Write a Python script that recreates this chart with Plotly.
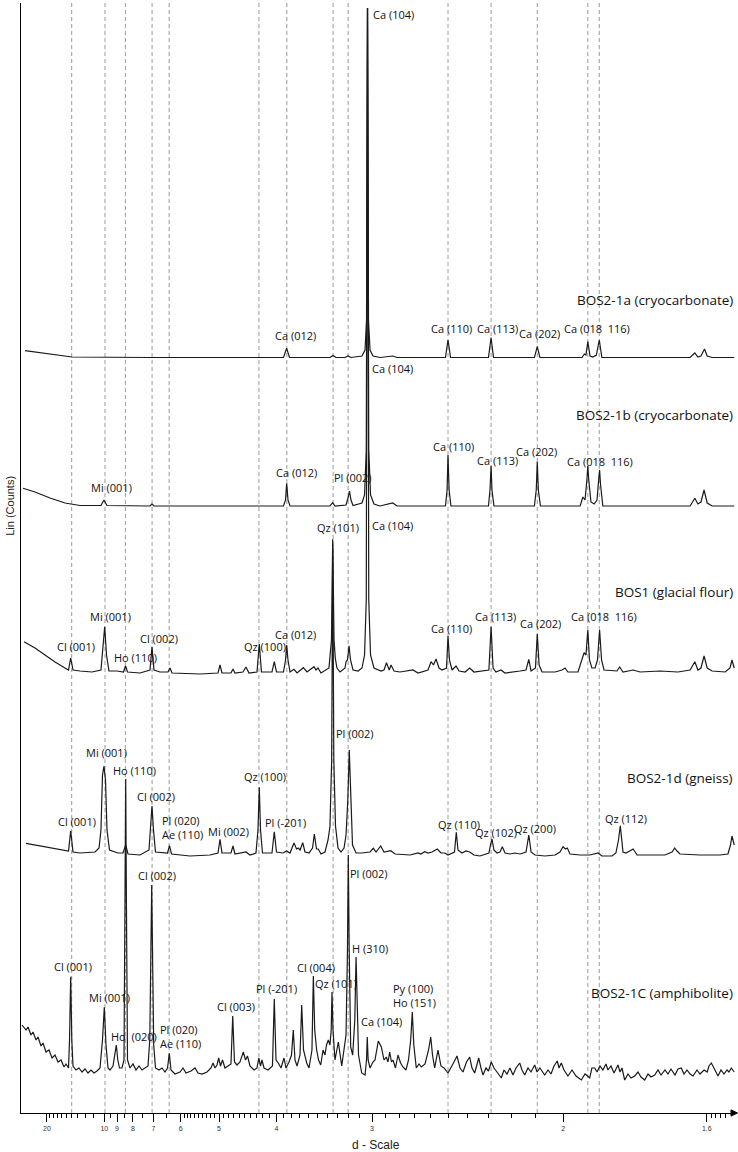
import plotly.graph_objects as go

# XRD patterns: (d-spacing in Å, counts above the pattern's own baseline)
bos2_1a = [
    (32.37, 6.8), (22.75, 5), (17.53, 2.5), (13.92, 0.5), (7.152, 0), (3.904, 0), (3.862, 9.2), (3.826, 0),
    (3.371, 0), (3.341, 2), (3.312, 0), (3.228, 0), (3.201, 1.5), (3.175, 0), (3.081, 1.5), (3.056, 7.5),
    (3.044, 37.5), (3.036, 349.5), (3.028, 37.5), (3.016, 7.5), (2.993, 1.5), (2.939, 0), (2.846, 1.5),
    (2.816, 0), (2.517, 0), (2.503, 17.5), (2.489, 0), (2.300, 0), (2.288, 19.8), (2.277, 0), (2.106, 0),
    (2.095, 10.8), (2.085, 0), (1.937, 0), (1.929, 3.5), (1.924, 2.5), (1.918, 15.8), (1.911, 1.5),
    (1.902, 0.5), (1.891, 2.5), (1.882, 17.5), (1.874, 0), (1.638, 0), (1.627, 4.5), (1.620, 0.5),
    (1.613, 1.5), (1.605, 8.5), (1.599, 1.5), (1.588, 0), (1.541, 0),
]

bos2_1b = [
    (34.30, 17.7), (25.25, 14), (18.98, 8), (15.21, 3), (12.69, 0.5), (10.30, 0.5), (10.03, 6), (9.77, 0.5),
    (7.152, 0), (7.064, 2), (6.978, 0), (3.904, 0), (3.877, 6), (3.862, 22.7), (3.845, 6), (3.819, 0),
    (3.371, 0), (3.344, 3.3), (3.322, 0), (3.219, 1), (3.201, 8), (3.188, 15), (3.175, 6), (3.157, 0.5),
    (3.081, 3), (3.060, 11), (3.046, 56), (3.036, 498), (3.026, 56), (3.012, 11), (2.985, 2), (2.939, 0),
    (2.846, 3), (2.816, 0), (2.517, 0), (2.508, 16), (2.503, 51), (2.497, 16), (2.487, 0), (2.300, 0),
    (2.293, 16), (2.288, 40), (2.284, 16), (2.275, 0), (2.106, 0), (2.099, 16), (2.095, 44.3), (2.091, 16),
    (2.083, 0), (1.943, 0), (1.934, 9), (1.927, 6), (1.921, 26), (1.918, 40), (1.915, 26), (1.908, 4),
    (1.898, 2), (1.889, 6), (1.884, 26), (1.881, 36), (1.878, 21), (1.871, 0), (1.638, 0), (1.627, 7.7),
    (1.620, 2), (1.613, 4), (1.606, 16), (1.599, 3), (1.588, 0), (1.541, 0),
]

bos1 = [
    (33.31, 31.3), (25.25, 25), (20.69, 18), (17.53, 11), (15.21, 5), (14.53, 3), (14.14, 15), (13.75, 3),
    (12.69, 2), (11.20, 1), (10.30, 3), (10.115, 23), (9.965, 46.3), (9.812, 18), (9.607, 2), (9.004, 2),
    (8.567, 1), (8.441, 7.3), (8.318, 1), (7.627, 0), (7.152, 3), (7.064, 26.3), (6.978, 3), (6.732, 1),
    (6.430, 1), (6.359, 5), (6.289, 0), (5.453, -1), (5.023, 0), (4.979, 8), (4.937, 0), (4.753, 0),
    (4.714, 4), (4.675, 0), (4.528, 1), (4.475, 6), (4.423, 0), (4.291, 1), (4.254, 29), (4.220, 1),
    (4.063, 1), (4.030, 11.3), (3.999, 1), (3.904, 1), (3.877, 13), (3.862, 28), (3.845, 13), (3.819, 1),
    (3.769, 3.7), (3.732, 0), (3.657, 5.3), (3.615, 1), (3.537, 6.3), (3.515, 3), (3.494, 5), (3.462, 0),
    (3.381, 5), (3.356, 33), (3.344, 133.7), (3.331, 33), (3.319, 14.7), (3.303, 5), (3.274, 1), (3.228, 5),
    (3.219, 11.3), (3.206, 13), (3.192, 27.3), (3.179, 13), (3.157, 3), (3.114, 2), (3.081, 5), (3.060, 18),
    (3.046, 73), (3.036, 665), (3.026, 73), (3.012, 18), (2.985, 5), (2.931, 2), (2.909, 3), (2.891, 10.3),
    (2.871, 3), (2.858, 8), (2.837, 2), (2.796, 1), (2.710, 3), (2.678, 0), (2.617, 3), (2.599, 11.3),
    (2.585, 8), (2.570, 14), (2.553, 5), (2.536, 3), (2.511, 5), (2.503, 37), (2.495, 13), (2.481, 3),
    (2.460, 7), (2.444, 2), (2.413, 1), (2.390, 5), (2.369, 1), (2.298, 3), (2.288, 46.3), (2.279, 5),
    (2.266, 1), (2.244, 3), (2.226, 0), (2.163, 2), (2.139, 3), (2.128, 13.7), (2.119, 2), (2.102, 5),
    (2.095, 39), (2.088, 8), (2.077, 1), (2.029, 1), (2.0045, 3), (1.994, 5), (1.984, 1), (1.950, 1),
    (1.937, 13), (1.930, 20.3), (1.924, 18), (1.918, 43), (1.9127, 13), (1.905, 5), (1.895, 5), (1.8875, 13),
    (1.881, 43), (1.875, 13), (1.8675, 3), (1.8435, 2), (1.829, 2), (1.821, 6), (1.8115, 1), (1.783, 3),
    (1.764, 1), (1.7115, 2), (1.667, 1), (1.638, 3), (1.627, 11.3), (1.620, 3), (1.613, 5), (1.606, 17),
    (1.599, 5), (1.588, 2), (1.560, 1), (1.5497, 5), (1.5456, 13), (1.541, 5),
]

bos2_1d = [
    (31.48, 11.7), (22.75, 9), (17.53, 6), (15.21, 4), (14.53, 4), (14.14, 24.3), (13.75, 3), (12.69, 2),
    (10.88, 3), (10.48, 7), (10.30, 25), (10.16, 80), (10.03, 89), (9.897, 75), (9.770, 25), (9.566, 5),
    (8.934, 2), (8.599, 2), (8.428, 10), (8.288, 1), (7.627, 0), (7.197, 5), (7.130, 25), (7.064, 49),
    (6.999, 25), (6.915, 3), (6.448, 2), (6.377, 9.3), (6.307, 1), (5.725, -1), (5.205, 0), (5.023, 2),
    (4.979, 15.7), (4.937, 2), (4.753, 2), (4.714, 9), (4.675, 1), (4.528, 2), (4.475, 3), (4.406, 0),
    (4.307, 2), (4.275, 25), (4.254, 67.7), (4.235, 25), (4.204, 2), (4.063, 2), (4.030, 23.3), (3.999, 3),
    (3.910, 2), (3.862, 4), (3.819, 2), (3.769, 12), (3.738, 6), (3.717, 7), (3.696, 5), (3.664, 12.3),
    (3.638, 3), (3.592, 2), (3.553, 7), (3.533, 21), (3.510, 6), (3.491, 6), (3.462, 1), (3.421, 3),
    (3.390, 15), (3.371, 28.3), (3.354, 95), (3.344, 310), (3.333, 95), (3.317, 29), (3.293, 7), (3.265, 3),
    (3.237, 7), (3.219, 20), (3.203, 55), (3.190, 105), (3.1765, 55), (3.1616, 10), (3.131, 2), (3.081, 2),
    (3.016, 3), (2.990, 6.7), (2.969, 3), (2.9337, 9), (2.909, 3), (2.8605, 4.3), (2.830, 1), (2.729, 0),
    (2.678, 2), (2.660, 1), (2.637, 3.3), (2.617, 2), (2.5935, 3), (2.563, 6), (2.542, 2), (2.521, 2),
    (2.503, 0), (2.468, 3), (2.4585, 22.7), (2.4496, 5), (2.429, 2), (2.4084, 4), (2.390, 3), (2.369, 0),
    (2.340, -1), (2.298, 2), (2.2907, 10), (2.2838, 16), (2.275, 5), (2.2613, 2), (2.248, 3), (2.238, 8.3),
    (2.226, 2), (2.205, 1), (2.185, 2), (2.163, 1), (2.139, 3), (2.128, 20), (2.119, 3), (2.104, 0),
    (2.066, -1), (2.029, 0), (2.0116, 3), (2.001, 8.3), (1.993, 6), (1.986, 7), (1.977, 1), (1.943, 0),
    (1.911, 0), (1.886, 2), (1.874, -1), (1.8435, -1), (1.832, 2), (1.8245, 15), (1.8193, 29.3), (1.8158, 15),
    (1.8115, 3), (1.803, 2), (1.783, 6), (1.772, 0), (1.7375, 0), (1.699, 0), (1.6814, 3), (1.6748, 7),
    (1.6692, 4), (1.662, 1), (1.6152, 0), (1.571, 0), (1.554, 1), (1.5487, 10), (1.5456, 19), (1.541, 10),
]

bos2_1c = [
    (35.36, 47), (31.48, 42), (29.84, 45), (27.68, 37), (26.41, 40), (24.70, 32), (23.68, 35), (22.30, 26),
    (21.47, 29), (20.33, 20), (19.30, 22), (18.37, 14), (17.53, 17), (16.76, 10), (16.06, 12), (15.41, 5),
    (15.01, 8), (14.53, 4), (14.35, 32), (14.14, 95.3), (13.95, 32), (13.75, 6), (13.27, 2), (12.83, 4),
    (12.41, 0), (12.02, 3), (11.656, -1), (11.31, 2), (10.986, -1), (10.68, 1), (10.39, 4), (10.16, 32),
    (10.00, 64.7), (9.854, 27), (9.688, 4), (9.527, 2), (9.295, 6), (9.162, 17), (9.053, 27), (8.947, 12),
    (8.830, 4), (8.664, 4), (8.535, 12), (8.472, 172), (8.428, 293), (8.385, 172), (8.318, 12), (8.170, 4),
    (7.999, 8), (7.836, 2), (7.678, 6), (7.527, 2), (7.382, 4), (7.242, 6), (7.161, 32), (7.107, 122),
    (7.077, 187), (7.042, 122), (6.990, 27), (6.915, 4), (6.772, 2), (6.654, 4), (6.540, 0), (6.448, 4),
    (6.384, 18.7), (6.324, 2), (6.188, -2), (6.025, 0), (5.932, 4), (5.841, -1), (5.696, 1), (5.585, 4),
    (5.505, -1), (5.401, -2), (5.277, 0), (5.182, 4), (5.135, 9), (5.090, 4), (5.045, 7), (5.008, 14),
    (4.969, 6), (4.926, 12), (4.874, 4), (4.812, 6), (4.753, 8), (4.719, 56), (4.685, 10), (4.637, 7),
    (4.582, 10), (4.522, 20), (4.483, 12), (4.449, 16), (4.406, 6), (4.339, 2), (4.291, 4), (4.262, 14),
    (4.235, 6), (4.212, 12), (4.181, 4), (4.121, 2), (4.056, 6), (4.030, 73), (4.006, 12), (3.974, 9),
    (3.937, 4), (3.897, 14), (3.871, 4), (3.832, 10), (3.800, 17), (3.778, 42), (3.757, 12), (3.732, 6),
    (3.696, 17), (3.676, 67), (3.655, 22), (3.618, 9), (3.592, 4), (3.559, 22), (3.544, 96), (3.529, 42),
    (3.508, 22), (3.488, 12), (3.465, 7), (3.441, 22), (3.421, 17), (3.4056, 27), (3.3875, 32), (3.371, 27),
    (3.3587, 42), (3.351, 80), (3.341, 42), (3.322, 12), (3.290, 30), (3.2585, 6), (3.237, 22), (3.219, 37),
    (3.206, 122), (3.1986, 217), (3.1906, 122), (3.1774, 25), (3.160, 17), (3.1417, 52), (3.131, 115),
    (3.120, 52), (3.110, 17), (3.0834, -1), (3.056, -3), (3.044, 12), (3.038, 35), (3.031, 12), (3.016, 4),
    (2.993, 10), (2.977, 12), (2.952, 31), (2.929, 25), (2.909, 12), (2.892, 15), (2.880, 10), (2.8677, 20),
    (2.855, 10), (2.844, 12), (2.827, 4), (2.8094, 17), (2.792, 9), (2.7754, 5), (2.7555, 2), (2.739, 12),
    (2.7247, 32), (2.7144, 60), (2.7048, 27), (2.689, 4), (2.672, 8), (2.658, 5), (2.635, 8), (2.614, 22),
    (2.601, 35), (2.5906, 17), (2.578, 4), (2.5674, 14), (2.5588, 22), (2.542, 6), (2.525, 4), (2.503, -1),
    (2.487, 4), (2.4707, 10), (2.4548, 16), (2.4392, 4), (2.4237, 0), (2.406, 10), (2.390, 15), (2.3785, 4),
    (2.3653, -1), (2.3555, 8), (2.3459, 14), (2.335, 4), (2.3255, -3), (2.3114, 4), (2.300, 1), (2.287, 10),
    (2.275, 4), (2.2613, 0), (2.2423, -6), (2.2305, 2), (2.2176, -2), (2.205, 4), (2.1922, -3), (2.1797, 4),
    (2.1645, 9), (2.1551, 2), (2.1443, -3), (2.1311, 4), (2.1193, 0), (2.105, 7), (2.096, 0), (2.085, 4),
    (2.067, -3), (2.0548, 2), (2.0438, -2), (2.033, 6), (2.0211, 11), (2.0151, 4), (2.0070, 9), (1.9976, 2),
    (1.984, -4), (1.970, 2), (1.9567, -4), (1.9392, -8), (1.927, -2), (1.912, -6), (1.905, 4), (1.8962, 4),
    (1.889, 0), (1.8798, 6), (1.871, 2), (1.8615, 8), (1.8555, 2), (1.8465, 6), (1.8376, -1), (1.826, 7),
    (1.820, 0), (1.8144, 4), (1.8067, -8), (1.7973, -2), (1.789, -6), (1.7787, -4), (1.7696, 0), (1.7615, -5),
    (1.7515, -8), (1.7427, -2), (1.7348, -5), (1.7252, -3), (1.7167, 2), (1.709, -3), (1.699, 2), (1.6914, -2),
    (1.6839, 3), (1.6741, -3), (1.6668, 3), (1.6589, 4), (1.6524, -2), (1.6453, 2), (1.638, -2), (1.6313, -4),
    (1.622, 2), (1.6152, -2), (1.606, 2), (1.599, 0), (1.595, 6), (1.5898, 9), (1.585, 4), (1.5796, 0),
    (1.5753, -4), (1.5688, 2), (1.5624, -2), (1.556, 2), (1.5518, 0), (1.547, 4), (1.541, 0),
]

patterns = [bos2_1a, bos2_1b, bos1, bos2_1d, bos2_1c]
sample_names = ["BOS2-1a (cryocarbonate)", "BOS2-1b (cryocarbonate)", "BOS1 (glacial flour)",
                "BOS2-1d (gneiss)", "BOS2-1C (amphibolite)"]
baselines = [755.5, 607, 440, 258, 41]      # vertical offset of each stacked pattern
name_y = [813, 698, 520.7, 334.7, 119.7]

NB = "\u00a0"
# peak labels: text, d (Å), height in counts
peak_labels = [
    ("Ca (012)", 3.748, 778), ("Ca (104)", 2.844, 1099), ("Ca (110)", 2.486, 785), ("Ca (113)", 2.258, 785),
    ("Ca (202)", 2.085, 779.7), ("Ca (018" + NB + " 116)", 1.8906, 784.7),

    ("Mi (001)", 9.387, 625.7), ("Ca (012)", 3.736, 640.3), ("Pl (002)", 3.153, 635.3), ("Ca (104)", 2.850, 744.7),
    ("Ca (110)", 2.476, 666.3), ("Ca (113)", 2.257, 653), ("Ca (202)", 2.0988, 662),
    ("Ca (018" + NB + " 116)", 1.8813, 652),

    ("Cl (001)", 13.35, 466.3), ("Mi (001)", 9.527, 497), ("Ho (110)", 7.889, 455.7), ("Cl (002)", 6.764, 474.7),
    ("Qz (100)", 4.170, 466.3), ("Ca (012)", 3.745, 479), ("Qz (101)", 3.293, 585.3), ("Ca (104)", 2.850, 588),
    ("Ca (110)", 2.485, 484.7), ("Ca (113)", 2.268, 497), ("Ca (202)", 2.084, 489.7),
    ("Ca (018" + NB + " 116)", 1.869, 497),

    ("Cl (001)", 13.197, 292), ("Mi (001)", 9.837, 360.3), ("Ho (110)", 7.927, 343), ("Cl (002)", 6.902, 316.3),
    ("Pl (020)<br>Ae (110)", 5.953, 285.8), ("Mi (002)", 4.812, 281.3), ("Qz (100)", 4.169, 337),
    ("Pl (-201)", 3.877, 290.7), ("Pl (002)", 3.140, 379.7), ("Qz (110)", 2.443, 289), ("Qz (102)", 2.264, 280.3),
    ("Qz (200)", 2.103, 284.7), ("Qz (112)", 1.8024, 294.7),

    ("Cl (001)", 13.70, 147), ("Mi (001)", 9.590, 115.7), ("Ho" + NB + NB + "(020)", 7.955, 77),
    ("Cl (002)", 6.865, 238), ("Pl (020)<br>Ae (110)", 5.994, 76.3), ("Cl (003)", 4.660, 106.3),
    ("Pl (-201)", 3.996, 124.7), ("Cl (004)", 3.512, 145.7), ("Qz (101)", 3.317, 129.7), ("Pl (002)", 3.024, 239.7),
    ("H (310)", 3.020, 164.7), ("Ca (104)", 2.930, 91.3), ("Py (100)<br>Ho (151)", 2.700, 117.5),
]

ref_d = [13.97, 9.94, 8.45, 7.06, 6.39, 4.26, 3.86, 3.34, 3.20, 2.503, 2.288, 2.095, 1.918, 1.882]
tick_d = [20, 10, 9, 8, 7, 6, 5, 4, 3, 2, 1.6]
minor_d = [19, 18, 17, 16, 15, 14, 13, 12, 11, 9.5, 8.5, 7.5, 6.5,
           5.9, 5.8, 5.7, 5.6, 5.5, 5.4, 5.3, 5.2, 5.1,
           4.9, 4.8, 4.7, 4.6, 4.5, 4.4, 4.3, 4.2, 4.1,
           3.9, 3.8, 3.7, 3.6, 3.5, 3.4, 3.3, 3.2, 3.1,
           2.9, 2.8, 2.7, 2.6, 2.5, 2.4, 2.3, 2.2, 2.1,
           1.59, 1.58, 1.57, 1.56]

LABEL_FONT = "Open Sans"

fig = go.Figure()

# the x axis is linear in 1/d, labelled in d
for pts, base in zip(patterns, baselines):
    fig.add_trace(go.Scatter(
        x=[1 / d for d, c in pts], y=[base + c for d, c in pts],
        mode='lines', line=dict(color='#1a1a1a', width=1.2),
        hoverinfo='skip', showlegend=False
    ))

for d in ref_d:
    fig.add_shape(type='line', xref='x', yref='paper', x0=1 / d, x1=1 / d, y0=0, y1=1.003,
                  line=dict(color='#9a9a9a', width=1, dash='4px,3px'), layer='below')

# arrow head at the end of the x axis
fig.add_shape(type='path', xref='paper', yref='paper',
              path='M 0.9944,0.0028 L 1.0035,0 L 0.9944,-0.0028 Z',
              fillcolor='black', line=dict(color='black', width=1))

for text, d, c in peak_labels:
    fig.add_annotation(x=1 / d, y=c, text=text, showarrow=False, xanchor='center', yanchor='middle',
                       align='left', font=dict(family=LABEL_FONT, size=11, color='#111111'))

for name, y in zip(sample_names, name_y):
    fig.add_annotation(x=1, xref='paper', y=y, text=name, showarrow=False, xanchor='right', yanchor='middle',
                       font=dict(family=LABEL_FONT, size=13.5, color='#111111'))

fig.add_annotation(x=-0.0154, xref='paper', y=0.547, yref='paper', text='Lin (Counts)', textangle=-90,
                   showarrow=False, xanchor='center', yanchor='middle',
                   font=dict(family='Liberation Sans', size=11, color='#222222'))
fig.add_annotation(x=0.497, xref='paper', y=-0.0288, yref='paper', text='d - Scale',
                   showarrow=False, xanchor='center', yanchor='middle',
                   font=dict(family='Liberation Sans', size=12, color='#222222'))

fig.update_layout(
    width=738, height=1152,
    margin=dict(l=21, r=3, t=3, b=39),
    plot_bgcolor='white', paper_bgcolor='white',
    xaxis=dict(
        range=[0.027407, 0.64963], showgrid=False, zeroline=False,
        showline=True, linecolor='black', linewidth=1.3,
        tickmode='array', tickvals=[1 / d for d in tick_d], ticktext=[str(d) for d in tick_d],
        ticks='outside', ticklen=8, tickwidth=1, tickcolor='black',
        tickfont=dict(family='Liberation Sans', size=7, color='#333333'),
        minor=dict(tickmode='array', tickvals=[1 / d for d in minor_d], ticks='outside',
                   ticklen=4, tickwidth=1, tickcolor='black', showgrid=False),
    ),
    yaxis=dict(
        range=[0, 1110], showgrid=False, zeroline=False, showticklabels=False, ticks='',
        showline=True, linecolor='black', linewidth=1.3,
    ),
)

# the page body has a default 8px margin; drop it so the figure fills the window exactly
fig.write_html("out.html", config={'displayModeBar': False},
               post_script="document.body.style.margin='0';document.body.style.overflow='hidden';")
